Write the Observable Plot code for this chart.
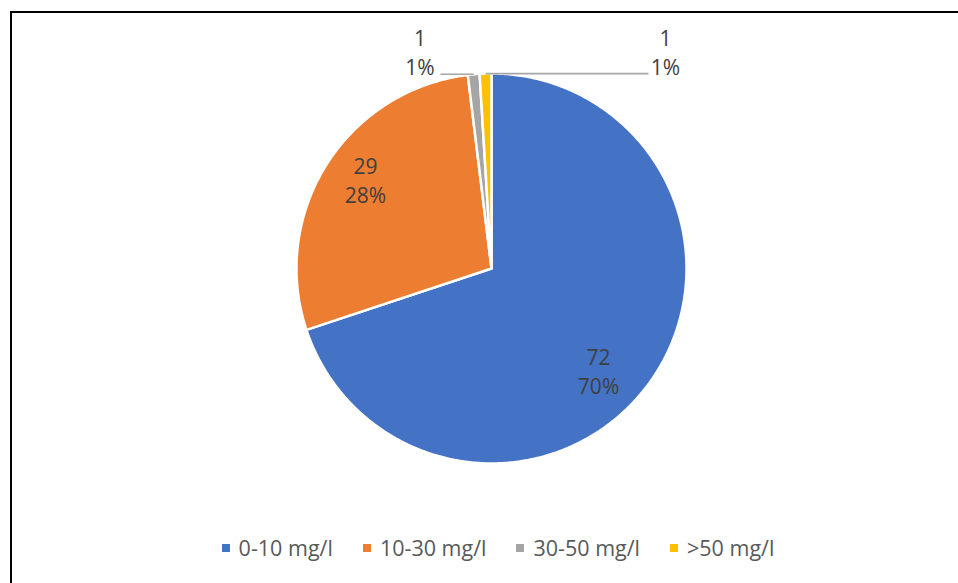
<!DOCTYPE html>
<html>
<head>
<meta charset="utf-8">
<script src="https://cdn.jsdelivr.net/npm/d3@7"></script>
<script src="https://cdn.jsdelivr.net/npm/@observablehq/plot@0.6"></script>
<style>
  html, body { margin: 0; padding: 0; background: #fff; width: 958px; height: 583px; overflow: hidden; position: relative; }
  #frame { position: absolute; left: 10px; top: 11px; width: 2000px; height: 2000px; border-left: 2px solid #000; border-top: 2px solid #000; pointer-events: none; }
  #chart { position: absolute; left: 0; top: 0; }
  #legend { position: absolute; left: 0; top: 533px; width: 958px; box-sizing: border-box; padding-left: 38px; display: flex; justify-content: center; gap: 30px; font-family: "Open Sans", sans-serif; font-size: 21.5px; color: #595959; }
  .item { display: flex; align-items: center; }
  .sw { width: 8px; height: 8px; margin-right: 9px; display: inline-block; }
</style>
</head>
<body>
<div id="chart"></div>
<div id="legend"></div>
<div id="frame"></div>
<script>
const categories = ["0-10 mg/l", "10-30 mg/l", "30-50 mg/l", ">50 mg/l"];
const values = [72, 29, 1, 1];
const colors = ["#4472C4", "#ED7D31", "#A5A5A5", "#FFC000"];

const total = d3.sum(values);
const arcs = d3.pie().sort(null).startAngle(0).endAngle(2 * Math.PI)(values);

// slice polygons in unit-circle coordinates
const slices = arcs.map((a, i) => {
  const pts = [{x: 0, y: 0}];
  const n = Math.max(4, Math.ceil((a.endAngle - a.startAngle) / 0.01));
  for (let k = 0; k <= n; k++) {
    const t = a.startAngle + (a.endAngle - a.startAngle) * k / n;
    pts.push({x: Math.sin(t), y: Math.cos(t)});
  }
  return {cat: categories[i], color: colors[i], pts};
});

const labels = arcs.map((a, i) => {
  const mid = (a.startAngle + a.endAngle) / 2;
  return {
    i, mid,
    text: `${values[i]}\n${Math.round(values[i] / total * 100)}%`,
    small: values[i] / total < 0.05
  };
});

// label placement (layout, in unit-circle coordinates)
const placement = {
  0: {x: 0.549, y: -0.521},
  1: {x: -0.646, y: 0.456},
  2: {x: -0.367, y: 1.113, edge: 0.105},
  3: {x: 0.892, y: 1.113, edge: -0.087}
};

const placed = labels.map(d => ({...d, x: placement[d.i].x, y: placement[d.i].y}));
const leaders = labels.filter(d => d.small).map(d => ({
  x1: placement[d.i].x + placement[d.i].edge, y1: Math.cos(d.mid),
  x2: Math.sin(d.mid), y2: Math.cos(d.mid)
}));

const marks = slices.map(s => Plot.line(s.pts, {x: "x", y: "y", curve: "linear-closed", fill: s.color, stroke: "#fff", strokeWidth: 2.5, strokeLinejoin: "round"}));
marks.push(Plot.link(leaders, {x1: "x1", y1: "y1", x2: "x2", y2: "y2", stroke: "#A6A6A6", strokeWidth: 1.6}));
marks.push(Plot.text(placed, {x: "x", y: "y", text: "text", fill: "#404040", fontSize: 21, lineHeight: 1.38}));

const chart = Plot.plot({
  width: 958,
  height: 530,
  margin: 0,
  style: {fontFamily: "'Open Sans', sans-serif", background: "transparent"},
  x: {domain: [-1, 1], range: [296, 686], axis: null},
  y: {domain: [-1, 1], range: [463, 73], axis: null},
  marks
});
document.getElementById("chart").appendChild(chart);

const legend = document.getElementById("legend");
categories.forEach((c, i) => {
  const it = document.createElement("div");
  it.className = "item";
  const sw = document.createElement("span");
  sw.className = "sw";
  sw.style.background = colors[i];
  const tx = document.createElement("span");
  tx.textContent = c;
  it.appendChild(sw);
  it.appendChild(tx);
  legend.appendChild(it);
});
</script>
</body>
</html>
